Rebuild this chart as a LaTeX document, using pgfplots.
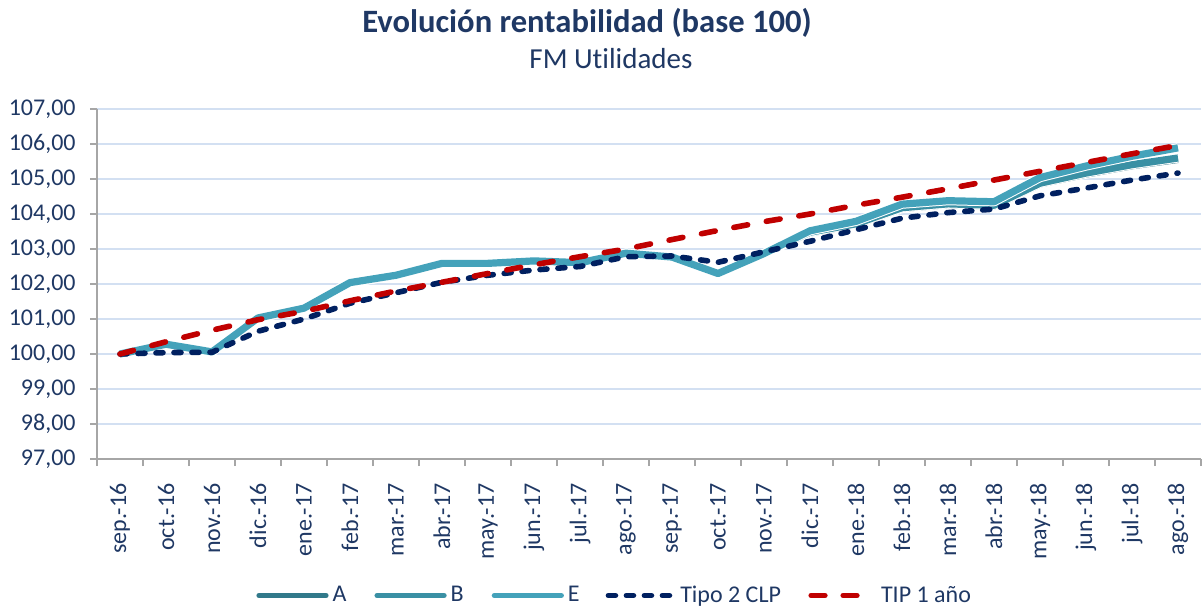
\documentclass[border=0pt]{standalone}
\usepackage{fontspec}
\setmainfont{Carlito}[Ligatures={NoCommon,NoRare,NoDiscretionary}]
\usepackage{pgfplots}
\pgfplotsset{compat=1.18}
\definecolor{navy}{HTML}{1F3864}
\definecolor{navyline}{HTML}{002060}
\definecolor{redline}{HTML}{C00000}
\definecolor{tealA}{HTML}{31798A}
\definecolor{tealB}{HTML}{3A90A4}
\definecolor{tealE}{HTML}{44A2BA}
\definecolor{gridc}{HTML}{D3E0F2}
\definecolor{axisc}{HTML}{A6A6A6}
\begin{document}
\begin{tikzpicture}
\useasboundingbox (-48.5pt,-73.5pt) rectangle (553pt,229.5pt);
\begin{axis}[
  at={(0,0)}, anchor=south west,
  scale only axis, width=552pt, height=175pt,
  xmin=-0.5, xmax=23.5, ymin=97, ymax=107,
  axis x line*=bottom, axis y line*=left,
  axis line style={draw=axisc, line width=1pt},
  xtick={0,...,23},
  xticklabels={sep.-16,oct.-16,nov.-16,dic.-16,ene.-17,feb.-17,mar.-17,abr.-17,may.-17,jun.-17,jul.-17,ago.-17,sep.-17,oct.-17,nov.-17,dic.-17,ene.-18,feb.-18,mar.-18,abr.-18,may.-18,jun.-18,jul.-18,ago.-18},
  major x tick style={draw=none},
  minor xtick={-0.5,0.5,...,23.5},
  minor x tick style={draw=axisc, line width=1pt},
  minor tick length=3.5pt,
  ytick={97,98,...,107},
  major tick length=3.5pt,
  y tick style={draw=axisc, line width=1pt},
  tick align=outside,
  ymajorgrids, major grid style={draw=gridc, line width=0.8pt},
  xticklabel style={rotate=90, anchor=east, inner sep=0pt, font=\fontsize{12}{14}\selectfont, text=navy},
  xticklabel shift=8.5pt,
  yticklabel style={anchor=east, inner sep=0pt, xshift=-7pt, font=\fontsize{12}{14}\selectfont, text=navy},
  /pgf/number format/.cd, fixed, fixed zerofill, precision=2, use comma, assume math mode=true,
  /pgfplots/.cd,
  legend columns=5,
  legend style={draw=none, fill=none, at={(rel axis cs:0.468,-0.39)}, anchor=center,
    font=\fontsize{12}{14}\selectfont, text=navy,
    /tikz/every even column/.append style={column sep=12pt},
    nodes={inner sep=1pt}},
  clip=false,
]
\addplot[tealA, line width=3.6pt, line join=round, preaction={draw=white, line width=4.6pt},
  legend image code/.code={\draw[tealA, solid, line width=2.6pt, line cap=round] (1.5pt,0pt) -- (35pt,0pt);}] coordinates {
(0,100.00) (1,100.28) (2,100.06) (3,101.03) (4,101.31) (5,102.04) (6,102.25) (7,102.59) (8,102.59) (9,102.66) (10,102.61) (11,102.88) (12,102.77) (13,102.30) (14,102.87) (15,103.46) (16,103.70) (17,104.16) (18,104.27) (19,104.23) (20,104.86) (21,105.14) (22,105.38) (23,105.56)};
\addlegendentry{A}
\addplot[tealB, line width=3.6pt, line join=round, preaction={draw=white, line width=4.6pt},
  legend image code/.code={\draw[tealB, solid, line width=2.6pt, line cap=round] (1.5pt,0pt) -- (35pt,0pt);}] coordinates {
(0,100.00) (1,100.28) (2,100.06) (3,101.03) (4,101.31) (5,102.04) (6,102.25) (7,102.59) (8,102.59) (9,102.66) (10,102.61) (11,102.88) (12,102.77) (13,102.30) (14,102.87) (15,103.48) (16,103.72) (17,104.18) (18,104.29) (19,104.25) (20,104.88) (21,105.17) (22,105.41) (23,105.60)};
\addlegendentry{B}
\addplot[tealE, line width=3.6pt, line join=round, preaction={draw=white, line width=4.6pt},
  legend image code/.code={\draw[tealE, solid, line width=2.6pt, line cap=round] (1.5pt,0pt) -- (35pt,0pt);}] coordinates {
(0,100.00) (1,100.28) (2,100.06) (3,101.03) (4,101.31) (5,102.04) (6,102.25) (7,102.59) (8,102.59) (9,102.66) (10,102.61) (11,102.88) (12,102.77) (13,102.30) (14,102.87) (15,103.52) (16,103.79) (17,104.28) (18,104.38) (19,104.35) (20,105.04) (21,105.37) (22,105.65) (23,105.89)};
\addlegendentry{E}
\addplot[navyline, line width=2.8pt, line cap=round, dash pattern=on 3.5pt off 5.5pt,
  legend image code/.code={\draw[navyline, line width=2.8pt, line cap=round, dash pattern=on 3.5pt off 5.5pt] (1.5pt,0pt) -- (35pt,0pt);}] coordinates {
(0,100.00) (1,100.04) (2,100.05) (3,100.65) (4,101.00) (5,101.45) (6,101.75) (7,102.05) (8,102.25) (9,102.40) (10,102.50) (11,102.78) (12,102.80) (13,102.62) (14,102.92) (15,103.22) (16,103.55) (17,103.88) (18,104.04) (19,104.14) (20,104.52) (21,104.74) (22,104.97) (23,105.17)};
\addlegendentry{Tipo 2 CLP}
\addplot[redline, line width=2.8pt, line cap=round, dash pattern=on 7pt off 9.5pt,
  legend image code/.code={\draw[redline, solid, line width=2.6pt, line cap=round] (2pt,0pt) -- (9pt,0pt) (18pt,0pt) -- (25pt,0pt); \path[draw=none] (0pt,0pt) -- (36pt,0pt);}] coordinates {
(0,100.00) (1,100.35) (2,100.68) (3,100.98) (4,101.22) (5,101.52) (6,101.80) (7,102.05) (8,102.30) (9,102.55) (10,102.78) (11,103.00) (12,103.27) (13,103.53) (14,103.78) (15,104.00) (16,104.25) (17,104.48) (18,104.72) (19,104.97) (20,105.22) (21,105.47) (22,105.72) (23,105.96)};
\addlegendentry{TIP 1 año}
\end{axis}
\node[text=navy, font=\fontsize{16.3}{18}\selectfont\bfseries] at (245pt,218pt) {Evolución rentabilidad (base 100)};
\node[text=navy, font=\fontsize{14.5}{17}\selectfont] at (257pt,200pt) {FM Utilidades};
\end{tikzpicture}
\end{document}
